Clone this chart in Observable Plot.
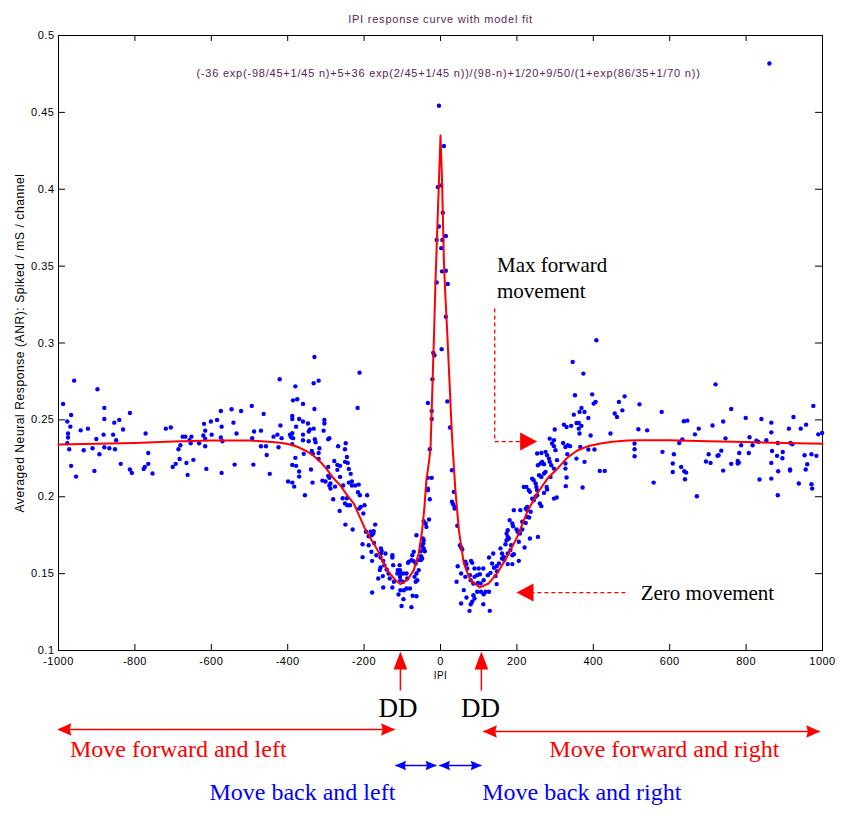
<!DOCTYPE html>
<html>
<head>
<meta charset="utf-8">
<script src="https://cdn.jsdelivr.net/npm/d3@7"></script>
<script src="https://cdn.jsdelivr.net/npm/@observablehq/plot@0.6"></script>
<style>
  html, body { margin: 0; padding: 0; background: #ffffff; }
  #chart svg { display: block; }
</style>
</head>
<body>
<div id="chart"></div>
<script>
// ---------- texts ----------
const titleText = "IPI response curve with model fit";
const formulaText = "(-36 exp(-98/45+1/45 n)+5+36 exp(2/45+1/45 n))/(98-n)+1/20+9/50/(1+exp(86/35+1/70 n))";
const yLabelText = "Averaged Neural Response (ANR): Spiked / mS / channel";
const xLabelText = "IPI";

// ---------- ticks ----------
const xTicks = [-1000, -800, -600, -400, -200, 0, 200, 400, 600, 800, 1000];
const yTicks = [0.1, 0.15, 0.2, 0.25, 0.3, 0.35, 0.4, 0.45, 0.5];

// ---------- model fit curve ----------
const curveIPI = [-1000, -900, -800, -700, -600, -500, -440, -415, -390, -370, -350, -330, -315, -298, -280, -262, -245, -227, -215, -196, -165, -140, -118, -105, -87, -70, -57, -48, -42, -37, -30, -26, -20, -17, -13, -9, -4, 0, 4, 9, 13, 17, 22, 27, 31, 39, 48, 61, 78, 103, 126, 148, 174, 201, 227, 253, 279, 305, 330, 358, 385, 419, 450, 490, 525, 600, 700, 800, 900, 1000];
const curveANR = [0.2340, 0.2345, 0.2350, 0.2360, 0.2366, 0.2366, 0.2356, 0.2349, 0.2338, 0.2320, 0.2296, 0.2262, 0.2228, 0.2180, 0.2120, 0.2072, 0.2012, 0.1956, 0.1889, 0.1783, 0.1653, 0.1523, 0.1457, 0.1432, 0.1457, 0.1523, 0.1631, 0.1783, 0.1934, 0.2108, 0.2230, 0.2320, 0.2810, 0.3050, 0.3410, 0.3700, 0.4060, 0.4350, 0.4060, 0.3520, 0.3290, 0.3100, 0.2830, 0.2560, 0.2350, 0.2043, 0.1783, 0.1566, 0.1458, 0.1410, 0.1436, 0.1501, 0.1609, 0.1739, 0.1902, 0.2021, 0.2115, 0.2180, 0.2250, 0.2301, 0.2328, 0.2346, 0.2358, 0.2366, 0.2368, 0.2367, 0.2361, 0.2356, 0.2350, 0.2344];

// ---------- measured points [IPI, ANR] ----------
const pointsLeftFlat = [[-988,.2604],[-959,.2755],[-967,.2532],[-977,.2489],[-969,.2456],[-975,.2411],[-975,.2385],[-977,.2348],[-972,.2309],[-967,.2201],[-954,.2131],[-942,.2432],[-934,.2302],[-923,.2443],[-911,.2315],[-906,.2168],[-901,.2376],[-898,.2699],[-893,.2276],[-882,.2404],[-880,.2578],[-880,.2506],[-880,.2322],[-867,.2315],[-857,.2404],[-854,.2482],[-849,.2367],[-852,.2309],[-841,.2500],[-837,.2214],[-831,.2437],[-813,.2545],[-813,.2177],[-808,.2155],[-777,.2181],[-774,.2194],[-772,.2411],[-765,.2285],[-765,.2214],[-754,.2151],[-719,.2443],[-706,.2450],[-701,.2194],[-693,.2214],[-686,.2309],[-683,.2246],[-681,.2335],[-675,.2391],[-668,.2391],[-665,.2220],[-662,.2142],[-657,.2367],[-654,.2348],[-652,.2391],[-647,.2240],[-632,.2348],[-621,.2398],[-619,.2474],[-616,.2430],[-616,.2378],[-616,.2328],[-613,.2181],[-601,.2489],[-599,.2404],[-585,.2500],[-575,.2558],[-573,.2456],[-575,.2385],[-571,.2361],[-573,.2155],[-547,.2569],[-542,.2482],[-534,.2411],[-539,.2209],[-522,.2558],[-494,.2591],[-488,.2424],[-493,.2381],[-490,.2209]];

const pointsLeftFall = [[-330,.2909],[-212,.2807],[-421,.2764],[-380,.2718],[-332,.2738],[-319,.2755],[-386,.2627],[-375,.2634],[-360,.2604],[-330,.2571],[-217,.2578],[-463,.2539],[-388,.2526],[-388,.2506],[-370,.2506],[-360,.2489],[-347,.2476],[-304,.2500],[-304,.2476],[-470,.2430],[-419,.2463],[-378,.2456],[-345,.2424],[-342,.2437],[-332,.2443],[-306,.2430],[-437,.2391],[-427,.2404],[-416,.2381],[-394,.2404],[-388,.2413],[-386,.2381],[-391,.2387],[-360,.2404],[-360,.2367],[-345,.2361],[-329,.2374],[-327,.2354],[-291,.2381],[-294,.2374],[-470,.2328],[-457,.2328],[-424,.2322],[-455,.2272],[-388,.2341],[-358,.2279],[-337,.2298],[-334,.2279],[-319,.2285],[-317,.2315],[-268,.2328],[-248,.2348],[-250,.2309],[-380,.2253],[-319,.2246],[-245,.2259],[-388,.2207],[-378,.2201],[-339,.2177],[-278,.2233],[-270,.2207],[-263,.2201],[-250,.2227],[-243,.2220],[-270,.2175],[-240,.2181],[-370,.2164],[-370,.2131],[-447,.2149],[-294,.2194],[-294,.2136],[-291,.2123],[-263,.2129],[-235,.2149],[-309,.2105],[-301,.2099],[-399,.2099],[-388,.2092],[-383,.2066],[-335,.2092],[-288,.2086],[-276,.2066],[-288,.2053],[-291,.2073],[-255,.2073],[-240,.2092],[-232,.2099],[-232,.2073],[-223,.2073],[-214,.2079],[-355,.2010],[-281,.1984],[-256,.1990],[-245,.1990],[-216,.2029],[-211,.2010],[-192,.2010]];

const pointsLeftTrough = [[-250,.1956],[-244,.1945],[-237,.1945],[-199,.1945],[-209,.1934],[-213,.1923],[-264,.1908],[-202,.1891],[-249,.1819],[-230,.1787],[-171,.1819],[-183,.1772],[-176,.1761],[-180,.1750],[-175,.1776],[-195,.1772],[-188,.1743],[-204,.1691],[-188,.1685],[-174,.1700],[-204,.1607],[-181,.1642],[-179,.1583],[-156,.1663],[-154,.1648],[-156,.1631],[-144,.1631],[-157,.1605],[-150,.1583],[-168,.1620],[-126,.1620],[-126,.1605],[-147,.1555],[-157,.1540],[-159,.1523],[-141,.1527],[-151,.1484],[-136,.1501],[-163,.1468],[-133,.1468],[-124,.1555],[-107,.1555],[-112,.1523],[-106,.1523],[-113,.1501],[-105,.1501],[-98,.1501],[-89,.1501],[-106,.1479],[-122,.1447],[-105,.1457],[-98,.1447],[-87,.1468],[-126,.1410],[-150,.1410],[-105,.1392],[-96,.1392],[-89,.1403],[-80,.1403],[-179,.1377],[-110,.1364],[-73,.1356],[-63,.1353],[-97,.1334],[-102,.1289],[-76,.1282],[-83,.1577],[-85,.1570],[-76,.1588],[-70,.1581],[-74,.1620],[-70,.1642],[-57,.1588],[-65,.1566],[-57,.1523],[-63,.1501],[-68,.1479],[-61,.1457],[-65,.1447],[-51,.1588],[-48,.1598],[-52,.1646],[-44,.1663],[-48,.1678],[-45,.1696],[-44,.1717],[-46,.1728],[-63,.1750],[-39,.1826],[-44,.1841],[-37,.1804],[-30,.1852],[-41,.1646],[-51,.1613]];

const pointsPeak = [[-4,.4543],[9,.4281],[-7,.4014],[2,.4025],[6,.3847],[-4,.3758],[-10,.3670],[5,.3670],[14,.3696],[2,.3617],[4,.3466],[14,.3470],[-10,.3394],[19,.3384],[14,.3171],[3,.2960],[18,.2620],[25,.2450],[-19,.2935],[-16,.2920],[-21,.2764],[-33,.2610],[-23,.2558],[-23,.2506],[-28,.2309],[-33,.2123],[-23,.2123],[-33,.2053],[-33,.2042],[-28,.1984]];

const pointsRightTrough = [[30,.2172],[35,.2032],[30,.1967],[33,.1951],[37,.1934],[37,.1923],[44,.1811],[51,.1685],[54,.1670],[57,.1657],[45,.1548],[65,.1577],[68,.1562],[80,.1583],[83,.1570],[70,.1533],[54,.1501],[65,.1479],[42,.1447],[77,.1490],[79,.1457],[61,.1393],[89,.1533],[100,.1533],[112,.1533],[89,.1479],[96,.1490],[103,.1496],[86,.1436],[98,.1440],[105,.1436],[113,.1457],[68,.1345],[86,.1360],[89,.1338],[83,.1317],[79,.1301],[96,.1382],[106,.1382],[118,.1382],[127,.1382],[113,.1366],[54,.1306],[76,.1258],[112,.1301],[129,.1258],[127,.1605],[138,.1631],[135,.1566],[140,.1538],[147,.1548],[153,.1566],[148,.1516],[144,.1484],[147,.1432],[124,.1490],[131,.1505],[157,.1664],[161,.1631],[161,.1598],[166,.1609],[167,.1588],[176,.1562],[188,.1562],[176,.1631],[183,.1653],[173,.1717],[179,.1728],[176,.1739],[170,.1691],[185,.1685],[188,.1620],[192,.1626],[205,.1583],[199,.1787],[202,.1772],[205,.1707],[220,.1670],[181,.1848],[188,.1826],[190,.1808],[176,.1782],[173,.1761],[192,.1913],[209,.1913],[208,.1761],[214,.1787],[214,.1837],[223,.1830],[227,.1913],[236,.1902],[234,.1728],[255,.1739],[227,.1869],[232,.1865],[227,.1934],[223,.1923],[240,.1988],[244,.1977],[249,.2000],[253,.2010],[260,.1956],[264,.1939],[218,.2064],[225,.2064],[231,.2043],[234,.2032],[249,.2086],[244,.2108],[240,.2118],[251,.2064],[253,.2043],[258,.2140],[264,.2129],[271,.2151],[275,.2162],[278,.2064],[279,.2047],[271,.2025],[304,.1995],[297,.1988],[255,.2205],[262,.2216],[266,.2227],[271,.2211],[253,.2281],[264,.2285],[275,.2292],[279,.2270],[284,.2248],[286,.2227],[290,.2205],[292,.2346],[297,.2329],[301,.2303],[305,.2238],[297,.2183],[288,.2129]];

const pointsRightRise = [[408,.3018],[346,.2877],[374,.2801],[352,.2660],[397,.2666],[406,.2617],[401,.2606],[369,.2578],[364,.2552],[377,.2552],[349,.2534],[387,.2513],[323,.2469],[330,.2454],[342,.2461],[356,.2480],[362,.2480],[369,.2461],[362,.2443],[364,.2411],[299,.2437],[393,.2398],[286,.2378],[297,.2367],[482,.2653],[467,.2617],[476,.2562],[456,.2541],[462,.2519],[521,.2601],[445,.2411],[518,.2439],[508,.2346],[508,.2309],[508,.2263],[366,.2324],[387,.2307],[403,.2307],[356,.2248],[377,.2227],[417,.2168],[430,.2168],[372,.2060],[321,.2350],[327,.2324],[333,.2335],[339,.2329],[332,.2277],[327,.2216],[327,.2183],[330,.2125],[328,.2069]];

const pointsRightFlat = [[541,.2432],[558,.2092],[579,.2552],[581,.2292],[608,.2216],[611,.2276],[608,.2161],[625,.2350],[633,.2372],[630,.2194],[637,.2491],[646,.2495],[638,.2166],[643,.2157],[640,.2114],[666,.2406],[676,.2443],[671,.2003],[695,.2229],[707,.2220],[702,.2276],[712,.2463],[720,.2731],[725,.2266],[728,.2270],[735,.2300],[740,.2170],[740,.2489],[746,.2380],[761,.2571],[761,.2214],[778,.2233],[778,.2216],[781,.2222],[782,.2285],[787,.2335],[799,.2513],[807,.2285],[809,.2387],[817,.2335],[827,.2365],[832,.2357],[835,.2112],[840,.2506],[853,.2367],[866,.2482],[866,.2419],[868,.2298],[866,.2220],[866,.2118],[881,.2266],[883,.2350],[884,.2166],[883,.2010],[895,.2250],[896,.2291],[912,.2443],[915,.2177],[915,.2170],[916,.2350],[921,.2341],[924,.2519],[938,.2086],[943,.2443],[953,.2270],[957,.2469],[956,.2177],[960,.2211],[971,.2276],[971,.2081],[973,.2053],[976,.2591],[984,.2266],[989,.2406],[999,.2415],[861,.4818]];

// ---------- annotations (placed in data units) ----------
const blackNotes = [
  {text: "Max forward\nmovement", ipi: 148, anr: 0.3433},
  {text: "Zero movement", ipi: 524, anr: 0.1384}
];
const ddNotes = [
  {text: "DD", ipi: -111, anr: 0.0626},
  {text: "DD", ipi: 105, anr: 0.0626}
];
const redNotes = [
  {text: "Move forward and left", ipi: -970, anr: 0.0359},
  {text: "Move forward and right", ipi: 285, anr: 0.0359}
];
const blueNotes = [
  {text: "Move back and left", ipi: -605, anr: 0.0076},
  {text: "Move back and right", ipi: 109, anr: 0.0076}
];
const dashedLinks = [
  {x1: 142, y1: 0.3224, x2: 142, y2: 0.2359},
  {x1: 142, y1: 0.2359, x2: 212, y2: 0.2359},
  {x1: 484, y1: 0.1377, x2: 240, y2: 0.1377}
];
const ddShafts = [
  {x1: -105, y1: 0.0740, x2: -105, y2: 0.0930},
  {x1: 107, y1: 0.0740, x2: 107, y2: 0.0930}
];
const redShafts = [
  {x1: -1000, y1: 0.0486, x2: -120, y2: 0.0486},
  {x1: 112, y1: 0.0473, x2: 993, y2: 0.0473}
];
const blueShafts = [
  {x1: -118, y1: 0.0252, x2: -11, y2: 0.0252},
  {x1: -3, y1: 0.0252, x2: 107, y2: 0.0252}
];
const bigHeads = [
  {ipi: 253, anr: 0.2359, dir: 90},
  {ipi: 199, anr: 0.1377, dir: -90}
];
const ddHeads = [
  {ipi: -105, anr: 0.0993, dir: 0},
  {ipi: 107, anr: 0.0993, dir: 0}
];
const redHeads = [
  {ipi: -1003, anr: 0.0486, dir: -90},
  {ipi: -119, anr: 0.0486, dir: 90},
  {ipi: 111, anr: 0.0473, dir: -90},
  {ipi: 994, anr: 0.0473, dir: 90}
];
const blueHeads = [
  {ipi: -119, anr: 0.0252, dir: -90},
  {ipi: -10, anr: 0.0252, dir: 90},
  {ipi: -4, anr: 0.0252, dir: -90},
  {ipi: 108, anr: 0.0252, dir: 90}
];

// ---------- build ----------
const toObj = ([ipi, anr]) => ({ipi, anr});
const points = [].concat(pointsLeftFlat, pointsLeftFall, pointsLeftTrough, pointsPeak,
  pointsRightTrough, pointsRightRise, pointsRightFlat).map(toObj);
const curve = curveIPI.map((ipi, i) => ({ipi, anr: curveANR[i]}));

function head(aspect, notch) {
  return {
    draw(ctx, size) {
      const L = Math.sqrt(size / Math.PI) * 2;
      const w = L * aspect;
      ctx.moveTo(0, 0);
      ctx.lineTo(w, L);
      ctx.lineTo(0, L * (1 - notch));
      ctx.lineTo(-w, L);
      ctx.closePath();
    }
  };
}

const W = 841, H = 814, mL = 58, mR = 19, mT = 35, mB = 164;
const x0 = xTicks[0], x1 = xTicks[xTicks.length - 1];
const y0 = yTicks[0], y1 = yTicks[yTicks.length - 1];
const perPxY = (y1 - y0) / (H - mT - mB);
const perPxX = (x1 - x0) / (W - mL - mR);
const innerX = xTicks.slice(1, -1);
const innerY = yTicks.slice(1, -1);
const purple = "#5a2456";
const sans = "'Liberation Sans', Arial, Helvetica, sans-serif";
const serif = "'Liberation Serif', 'Times New Roman', serif";

const chart = Plot.plot({
  width: W, height: H,
  marginLeft: mL, marginRight: mR, marginTop: mT, marginBottom: mB,
  x: {domain: [x0, x1]},
  y: {domain: [y0, y1]},
  style: {fontFamily: sans, background: "#ffffff", color: "#000000", overflow: "visible"},
  marks: [
    Plot.axisX({ticks: xTicks, tickSize: 0, tickPadding: 7, label: null, fontSize: 11, tickFormat: d => String(d)}),
    Plot.axisY({ticks: yTicks, tickSize: 0, tickPadding: 4, label: null, fontSize: 11, tickFormat: d => String(d)}),
    Plot.ruleX(innerX, {x: d => d, y1: y0, y2: y0 + 6 * perPxY, stroke: "#000"}),
    Plot.ruleX(innerX, {x: d => d, y1: y1 - 6 * perPxY, y2: y1, stroke: "#000"}),
    Plot.ruleY(innerY, {y: d => d, x1: x0, x2: x0 + 7 * perPxX, stroke: "#000"}),
    Plot.ruleY(innerY, {y: d => d, x1: x1 - 7 * perPxX, x2: x1, stroke: "#000"}),
    Plot.frame({stroke: "#000", strokeWidth: 1}),
    Plot.dot(points, {x: "ipi", y: "anr", r: 2.2, fill: "#0000ff"}),
    Plot.line(curve, {x: "ipi", y: "anr", stroke: "#ff0000", strokeWidth: 2}),
    Plot.text([titleText], {x: 0, frameAnchor: "top", dy: -20, fill: purple, fontSize: 11, text: d => d}),
    Plot.text([formulaText], {x: 0, dx: 8, frameAnchor: "top", dy: 34, fill: purple, fontSize: 11, text: d => d}),
    Plot.text([yLabelText], {frameAnchor: "left", textAnchor: "middle", y: (y0 + y1) / 2, dx: -38, rotate: -90, fontSize: 12, text: d => d}),
    Plot.text([xLabelText], {x: 0, frameAnchor: "bottom", dy: 28, fontSize: 10, text: d => d}),
    Plot.link(dashedLinks, {x1: "x1", y1: "y1", x2: "x2", y2: "y2", stroke: "#ff0000", strokeWidth: 1.3, strokeDasharray: "4,3"}),
    Plot.link(ddShafts, {x1: "x1", y1: "y1", x2: "x2", y2: "y2", stroke: "#ff0000", strokeWidth: 1.5}),
    Plot.link(redShafts, {x1: "x1", y1: "y1", x2: "x2", y2: "y2", stroke: "#ff0000", strokeWidth: 1.5}),
    Plot.link(blueShafts, {x1: "x1", y1: "y1", x2: "x2", y2: "y2", stroke: "#0000ff", strokeWidth: 1.5}),
    Plot.dot(bigHeads, {x: "ipi", y: "anr", rotate: "dir", symbol: head(0.53, 0), r: 8.5, fill: "#ff0000"}),
    Plot.dot(ddHeads, {x: "ipi", y: "anr", rotate: "dir", symbol: head(0.38, 0), r: 9, fill: "#ff0000"}),
    Plot.dot(redHeads, {x: "ipi", y: "anr", rotate: "dir", symbol: head(0.45, 0.12), r: 7, fill: "#ff0000"}),
    Plot.dot(blueHeads, {x: "ipi", y: "anr", rotate: "dir", symbol: head(0.43, 0.12), r: 5.5, fill: "#0000ff"}),
    Plot.text(blackNotes, {x: "ipi", y: "anr", text: "text", textAnchor: "start", lineHeight: 1.24, fontSize: 21, fontFamily: serif, fill: "#000"}),
    Plot.text(ddNotes, {x: "ipi", y: "anr", text: "text", textAnchor: "middle", fontSize: 27, fontFamily: serif, fill: "#000"}),
    Plot.text(redNotes, {x: "ipi", y: "anr", text: "text", textAnchor: "start", fontSize: 24, fontFamily: serif, fill: "#ff0000"}),
    Plot.text(blueNotes, {x: "ipi", y: "anr", text: "text", textAnchor: "start", fontSize: 24, fontFamily: serif, fill: "#0000ff"})
  ]
});
document.getElementById("chart").appendChild(chart);

// MATLAB-like wider letter spacing for the sans-serif texts
d3.select(chart).selectAll("text").each(function() {
  const ff = getComputedStyle(this).fontFamily;
  if (/Liberation Serif/i.test(ff)) return;
  const t = this.textContent;
  if (t === yLabelText) this.style.letterSpacing = "0.6px";
  else if (t === titleText || t === formulaText) this.style.letterSpacing = "0.78px";
  else this.style.letterSpacing = "0.5px";
});
</script>
</body>
</html>
